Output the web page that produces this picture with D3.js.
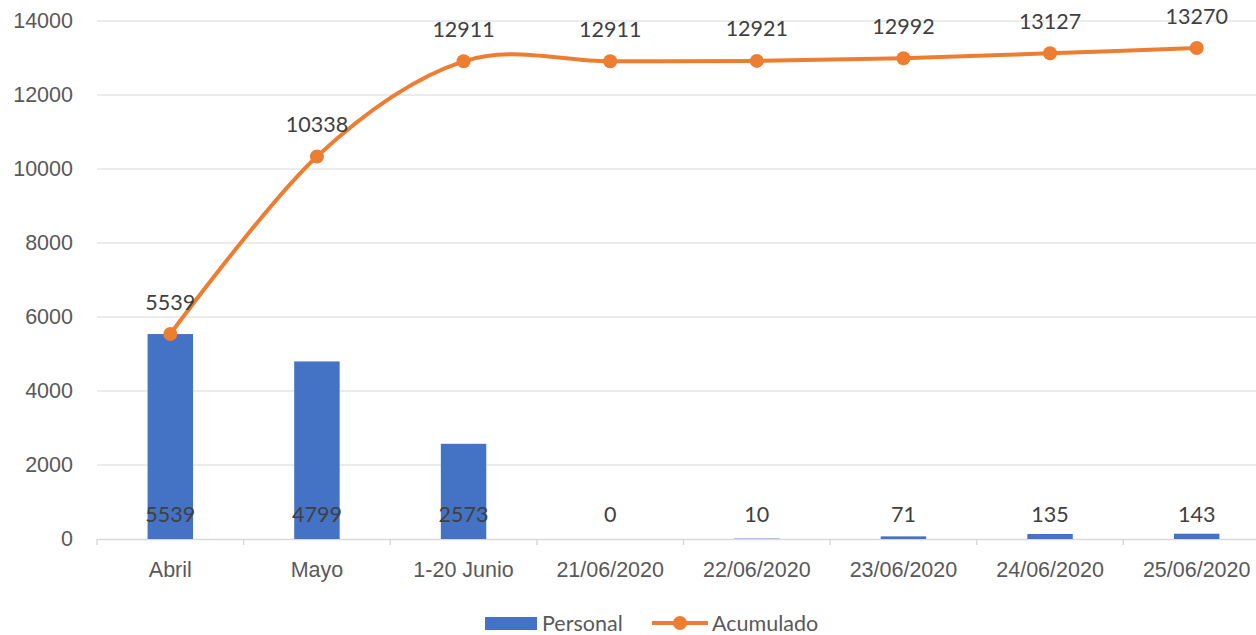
<!DOCTYPE html>
<html>
<head>
<meta charset="utf-8">
<script src="https://cdn.jsdelivr.net/npm/d3@7/dist/d3.min.js"></script>
<style>
  html, body { margin: 0; padding: 0; background: #ffffff; }
  svg { display: block; font-family: Lato, "Open Sans", sans-serif; }
</style>
</head>
<body>
<svg id="chart" width="1256" height="635"></svg>
<script>
const categories = ["Abril", "Mayo", "1-20 Junio", "21/06/2020", "22/06/2020", "23/06/2020", "24/06/2020", "25/06/2020"];
const personal = [5539, 4799, 2573, 0, 10, 71, 135, 143];
const acumulado = [5539, 10338, 12911, 12911, 12921, 12992, 13127, 13270];
const yTicks = [0, 2000, 4000, 6000, 8000, 10000, 12000, 14000];

const FS = "21.5px";
const svg = d3.select("#chart");
const margin = { left: 97, right: -14, top: 21, bottom: 96 };
const W = 1256, H = 635;

const x = d3.scaleBand()
  .domain(categories)
  .range([margin.left, W - margin.right])
  .paddingInner(0).paddingOuter(0);

const y = d3.scaleLinear()
  .domain([0, 14000])
  .range([H - margin.bottom, margin.top]);

// gridlines
svg.append("g")
  .selectAll("line")
  .data(yTicks.filter(d => d > 0))
  .join("line")
  .attr("x1", margin.left).attr("x2", W - margin.right)
  .attr("y1", d => y(d)).attr("y2", d => y(d))
  .attr("stroke", "#d9d9d9").attr("stroke-width", 1);

// y axis labels
const yAxis = d3.axisLeft(y).tickValues(yTicks).tickSize(0).tickPadding(24).tickFormat(d3.format("d"));
const gy = svg.append("g").attr("transform", `translate(${margin.left},0)`).call(yAxis);
gy.select(".domain").remove();
gy.selectAll("text").attr("fill", "#595959").style("font-size", FS);

// x axis
const xAxis = d3.axisBottom(x).tickSize(0).tickPadding(23);
const gx = svg.append("g").attr("transform", `translate(0,${y(0)})`).call(xAxis);
gx.select(".domain").attr("stroke", "#d9d9d9").attr("stroke-width", 1.5);
gx.selectAll("text").attr("fill", "#595959").style("font-size", FS);
// category boundary ticks
gx.append("g").selectAll("line")
  .data(d3.range(categories.length + 1))
  .join("line")
  .attr("x1", i => margin.left + i * x.step())
  .attr("x2", i => margin.left + i * x.step())
  .attr("y1", 0).attr("y2", 6)
  .attr("stroke", "#d9d9d9").attr("stroke-width", 1.5);

// bars
const barW = x.bandwidth() * 0.31;
svg.append("g")
  .selectAll("rect")
  .data(categories.map((c, i) => ({ c, v: personal[i] })))
  .join("rect")
  .attr("x", d => x(d.c) + x.bandwidth() / 2 - barW / 2)
  .attr("width", barW)
  .attr("y", d => y(d.v))
  .attr("height", d => y(0) - y(d.v))
  .attr("fill", "#4472c4");

// bar labels (inside base)
svg.append("g")
  .selectAll("text")
  .data(categories.map((c, i) => ({ c, v: personal[i] })))
  .join("text")
  .attr("x", d => x(d.c) + x.bandwidth() / 2)
  .attr("y", y(0) - 25)
  .attr("dy", "0.35em")
  .attr("text-anchor", "middle")
  .attr("fill", "#404040")
  .style("font-size", FS)
  .text(d => d.v);

// cumulative line
const pts = categories.map((c, i) => ({ c, v: acumulado[i] }));
const line = d3.line()
  .x(d => x(d.c) + x.bandwidth() / 2)
  .y(d => y(d.v))
  .curve(d3.curveCardinal.tension(0));

svg.append("path")
  .datum(pts)
  .attr("d", line)
  .attr("fill", "none")
  .attr("stroke", "#ed7d31")
  .attr("stroke-width", 4)
  .attr("stroke-linecap", "round");

svg.append("g")
  .selectAll("circle")
  .data(pts)
  .join("circle")
  .attr("cx", d => x(d.c) + x.bandwidth() / 2)
  .attr("cy", d => y(d.v))
  .attr("r", 7)
  .attr("fill", "#ed7d31");

svg.append("g")
  .selectAll("text")
  .data(pts)
  .join("text")
  .attr("x", d => x(d.c) + x.bandwidth() / 2)
  .attr("y", d => y(d.v) - 32)
  .attr("dy", "0.35em")
  .attr("text-anchor", "middle")
  .attr("fill", "#404040")
  .style("font-size", FS)
  .text(d => d.v);

// legend
const lg = svg.append("g").attr("transform", "translate(0,623)");
lg.append("rect").attr("x", 485).attr("y", -6).attr("width", 52).attr("height", 13).attr("fill", "#4472c4");
lg.append("text").attr("x", 542).attr("y", 0).attr("dy", "0.35em")
  .attr("fill", "#595959").style("font-size", FS).text("Personal");
lg.append("line").attr("x1", 652).attr("x2", 708).attr("y1", 0).attr("y2", 0)
  .attr("stroke", "#ed7d31").attr("stroke-width", 4);
lg.append("circle").attr("cx", 680).attr("cy", 0).attr("r", 7).attr("fill", "#ed7d31");
lg.append("text").attr("x", 712).attr("y", 0).attr("dy", "0.35em")
  .attr("fill", "#595959").style("font-size", FS).text("Acumulado");
</script>
</body>
</html>
